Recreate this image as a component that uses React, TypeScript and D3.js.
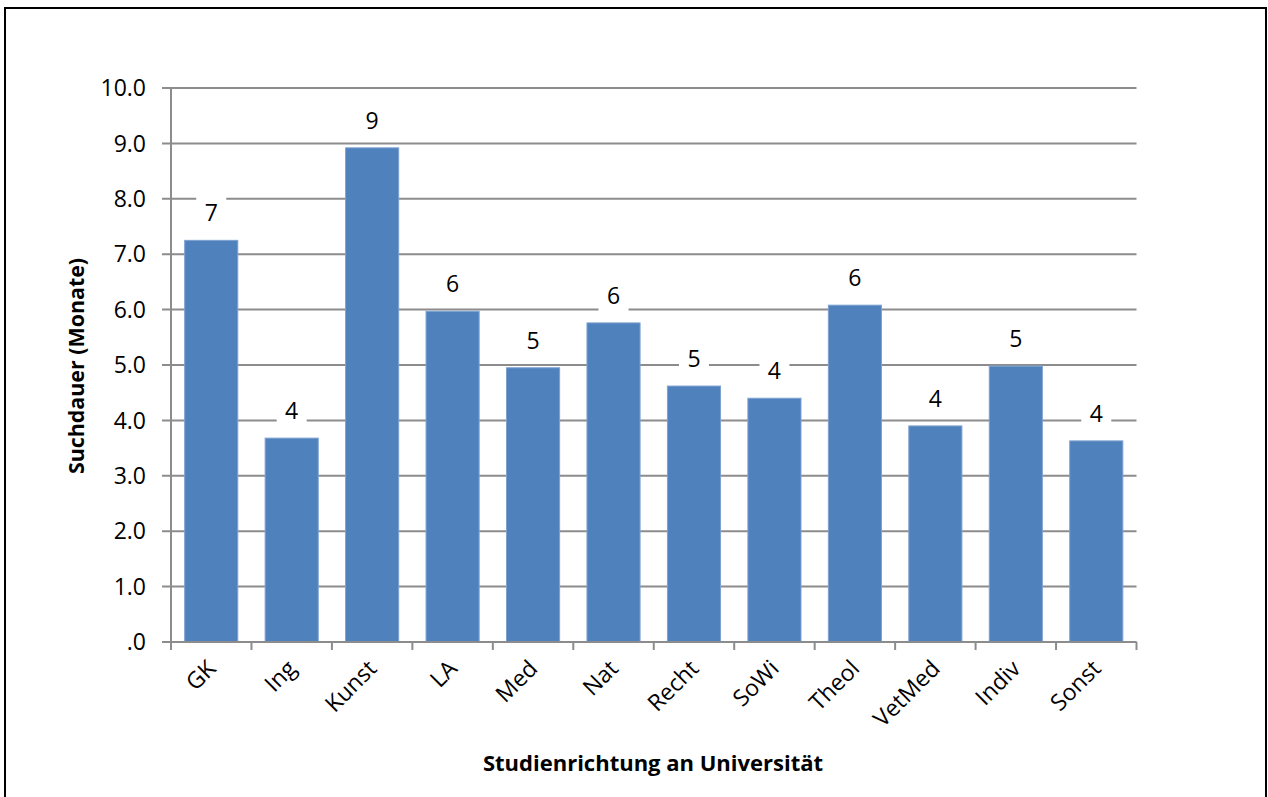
import React from "react";
import * as d3 from "d3";

const categories = ["GK", "Ing", "Kunst", "LA", "Med", "Nat", "Recht", "SoWi", "Theol", "VetMed", "Indiv", "Sonst"];
const values = [7.25, 3.68, 8.92, 5.97, 4.95, 5.76, 4.62, 4.4, 6.08, 3.9, 4.98, 3.63];
const yTicks = [0, 1, 2, 3, 4, 5, 6, 7, 8, 9, 10];
const yTitle = "Suchdauer (Monate)";
const xTitle = "Studienrichtung an Universität";

const W = 1268;
const H = 797;
const left = 171;
const right = 1136.5;
const top = 88;
const bottom = 642;
const font = "'Open Sans', sans-serif";

export default function App() {
  const x = d3.scaleBand<string>().domain(categories).range([left, right]).paddingInner(0.34).paddingOuter(0.17);
  const xb = d3.scaleBand<string>().domain(categories).range([left, right]);
  const y = d3.scaleLinear().domain([0, 10]).range([bottom, top]);
  const fmt = (v: number) => (v === 0 ? ".0" : v.toFixed(1));

  return (
    <svg width={W} height={H} style={{ position: "absolute", left: 0, top: 0 }}>
      <rect x={0} y={0} width={W} height={H} fill="#fff" />
      <rect x={5} y={8} width={1261} height={800} fill="#fff" stroke="#000" strokeWidth={2} />
      {yTicks.map((t) => (
        <g key={t}>
          <line x1={left - 9} x2={right} y1={y(t)} y2={y(t)} stroke="#8c8c8c" strokeWidth={2} />
          <text x={left - 25} y={y(t)} dy="0.36em" textAnchor="end" fontFamily={font} fontSize={23} fill="#000">
            {fmt(t)}
          </text>
        </g>
      ))}
      <line x1={left} x2={left} y1={top} y2={bottom} stroke="#8c8c8c" strokeWidth={2} />
      {categories.map((c, i) => (
        <rect
          key={c}
          x={x(c)!}
          y={y(values[i])}
          width={x.bandwidth()}
          height={bottom - y(values[i])}
          fill="#4f81bd"
          stroke="#7da2d0"
          strokeWidth={1}
        />
      ))}
      <line x1={left} x2={right} y1={bottom} y2={bottom} stroke="#8c8c8c" strokeWidth={2} />
      {[...categories.map((c) => xb(c)!), right].map((px, i) => (
        <line key={i} x1={px} x2={px} y1={bottom} y2={bottom + 8} stroke="#8c8c8c" strokeWidth={2} />
      ))}
      {categories.map((c, i) => {
        const cx = x(c)! + x.bandwidth() / 2;
        const ly = y(values[i]) - 19;
        return (
          <g key={"l" + c}>
            <rect x={cx - 15} y={ly - 25} width={30} height={33} fill="#fff" />
            <text x={cx} y={ly} textAnchor="middle" fontFamily={font} fontSize={23} fill="#000">
              {Math.round(values[i])}
            </text>
          </g>
        );
      })}
      {categories.map((c) => {
        const cx = xb(c)! + xb.bandwidth() / 2 + 6;
        const ty = bottom + 28;
        return (
          <text
            key={"t" + c}
            x={cx}
            y={ty}
            textAnchor="end"
            fontFamily={font}
            fontSize={23}
            fill="#000"
            transform={`rotate(-45 ${cx} ${ty})`}
          >
            {c}
          </text>
        );
      })}
      <text
        x={84}
        y={366}
        textAnchor="middle"
        fontFamily={font}
        fontSize={21.4}
        fontWeight="bold"
        fill="#000"
        transform={`rotate(-90 84 366)`}
      >
        {yTitle}
      </text>
      <text x={653} y={771} textAnchor="middle" fontFamily={font} fontSize={22} fontWeight="bold" fill="#000">
        {xTitle}
      </text>
    </svg>
  );
}
